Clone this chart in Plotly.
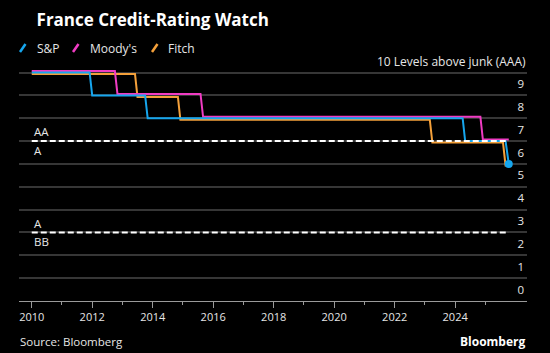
import plotly.graph_objects as go

# ---- data (levels above junk; AAA = 10) ----
sp_dates = ["2010-01-01", "2011-12-01", "2012-01-01", "2013-10-01", "2013-11-01",
            "2024-04-01", "2024-05-01", "2025-09-01", "2025-10-10"]
sp_vals = [10, 10, 9, 9, 8, 8, 7, 7, 6]

moodys_dates = ["2010-01-01", "2012-10-01", "2012-11-01", "2015-08-01", "2015-09-01",
                "2024-11-01", "2024-12-01", "2025-10-10"]
moodys_vals = [10, 10, 9, 9, 8, 8, 7, 7]

fitch_dates = ["2010-01-01", "2013-06-01", "2013-07-01", "2014-11-01", "2014-12-01",
               "2023-03-01", "2023-04-01", "2025-08-01", "2025-09-01", "2025-10-10"]
fitch_vals = [10, 10, 9, 9, 8, 8, 7, 7, 6, 6]

boundary_dates = ["2010-01-01", "2025-10-10"]
boundary_levels = [7, 3]
boundary_labels = [("AA", "A"), ("A", "BB")]

y_tick_vals = [0.5, 1.5, 2.5, 3.5, 4.5, 5.5, 6.5, 7.5, 8.5, 9.5]
y_tick_text = ["0", "1", "2", "3", "4", "5", "6", "7", "8", "9"]
y_top_label = "10 Levels above junk (AAA)"
y_top_pos = 10.5
grid_levels = list(range(0, 11))
x_major = ["2010-01-01", "2012-01-01", "2014-01-01", "2016-01-01", "2018-01-01",
           "2020-01-01", "2022-01-01", "2024-01-01"]
x_minor = ["2011-01-01", "2013-01-01", "2015-01-01", "2017-01-01", "2019-01-01",
           "2021-01-01", "2023-01-01", "2025-01-01"]

C_SP = "#16a6ee"
C_MO = "#f03cc3"
C_FI = "#f4a03a"
TXT = "#e6e6e6"
FONT = "Open Sans"

L, R, T, B = 19, 23, 52, 52
W, H = 550, 353
PW = W - L - R
PH = H - T - B


def px(x):
    return (x - L) / PW


def py(y):
    return (H - B - y) / PH


fig = go.Figure()

fig.add_trace(go.Scatter(x=fitch_dates, y=[v - 0.065 for v in fitch_vals], mode="lines",
                         line=dict(color=C_FI, width=2), name="Fitch", hoverinfo="skip"))
fig.add_trace(go.Scatter(x=moodys_dates, y=[v + 0.065 for v in moodys_vals], mode="lines",
                         line=dict(color=C_MO, width=2), name="Moody's", hoverinfo="skip"))
fig.add_trace(go.Scatter(x=sp_dates, y=sp_vals, mode="lines",
                         line=dict(color=C_SP, width=2), name="S&P", hoverinfo="skip"))

for lvl in boundary_levels:
    fig.add_trace(go.Scatter(x=boundary_dates, y=[lvl, lvl], mode="lines",
                             line=dict(color="white", width=2, dash="6px,3px"),
                             hoverinfo="skip", showlegend=False))

fig.add_trace(go.Scatter(x=[sp_dates[-1]], y=[sp_vals[-1]], mode="markers",
                         marker=dict(color=C_SP, size=8), hoverinfo="skip", showlegend=False))

annotations = []
for lvl, (above, below) in zip(boundary_levels, boundary_labels):
    annotations.append(dict(x=boundary_dates[0], y=lvl + 0.4, xref="x", yref="y", text=above,
                            showarrow=False, xanchor="left", yanchor="middle",
                            font=dict(family=FONT, size=11.5, color=TXT)))
    annotations.append(dict(x=boundary_dates[0], y=lvl - 0.4, xref="x", yref="y", text=below,
                            showarrow=False, xanchor="left", yanchor="middle",
                            font=dict(family=FONT, size=11.5, color=TXT)))

annotations.append(dict(x=1, y=y_top_pos, xref="paper", yref="y", text=y_top_label,
                        showarrow=False, xanchor="right", yanchor="middle", xshift=1,
                        font=dict(family=FONT, size=12, color=TXT)))

# legend (custom, slanted icons)
legend_items = [("S&P", C_SP, 20, 35), ("Moody's", C_MO, 73, 88), ("Fitch", C_FI, 152, 166)]
shapes = []
for name, col, ix, tx in legend_items:
    shapes.append(dict(type="line", xref="paper", yref="paper",
                       x0=px(ix), y0=py(52), x1=px(ix + 5.5), y1=py(44),
                       line=dict(color=col, width=2.5)))
    annotations.append(dict(x=px(tx), y=py(48), xref="paper", yref="paper", text=name,
                            showarrow=False, xanchor="left", yanchor="middle",
                            font=dict(family=FONT, size=12, color=TXT)))

annotations.append(dict(x=px(18), y=py(341), xref="paper", yref="paper", text="Source: Bloomberg",
                        showarrow=False, xanchor="left", yanchor="middle",
                        font=dict(family=FONT, size=11.5, color=TXT)))
annotations.append(dict(x=px(528), y=py(341), xref="paper", yref="paper", text="<b>Bloomberg</b>",
                        showarrow=False, xanchor="right", yanchor="middle",
                        font=dict(family=FONT, size=12, color="white")))

fig.update_layout(
    width=W, height=H,
    margin=dict(l=L, r=R, t=T, b=B, pad=0),
    paper_bgcolor="black", plot_bgcolor="black",
    showlegend=False,
    title=dict(text="<b>France Credit-Rating Watch</b>", x=L / W, xanchor="left",
               xref="paper", y=1 - 20 / H, yanchor="middle", yref="container",
               font=dict(family=FONT, size=17, color="white")),
    xaxis=dict(type="date", range=["2009-07-31", "2026-05-18"],
               tickmode="array", tickvals=x_major, tickformat="%Y",
               ticks="outside", ticklen=6, tickwidth=1, tickcolor="#9a9a9a",
               showline=True, linecolor="#9a9a9a", linewidth=1,
               showgrid=False, zeroline=False,
               tickfont=dict(family=FONT, size=11, color=TXT),
               minor=dict(tickmode="array", tickvals=x_minor, ticks="outside",
                          ticklen=3, tickcolor="#9a9a9a", showgrid=False)),
    yaxis=dict(range=[0, 10.9], side="right", ticklabelposition="inside",
               tickmode="array", tickvals=y_tick_vals, ticktext=y_tick_text,
               ticks="", showgrid=False, zeroline=False, showline=False,
               tickfont=dict(family=FONT, size=11.5, color=TXT),
               minor=dict(tickmode="array", tickvals=grid_levels, showgrid=True,
                          gridcolor="#363636", gridwidth=1.5, ticks="")),
    annotations=annotations,
    shapes=shapes,
)

fig.write_html("out.html")
